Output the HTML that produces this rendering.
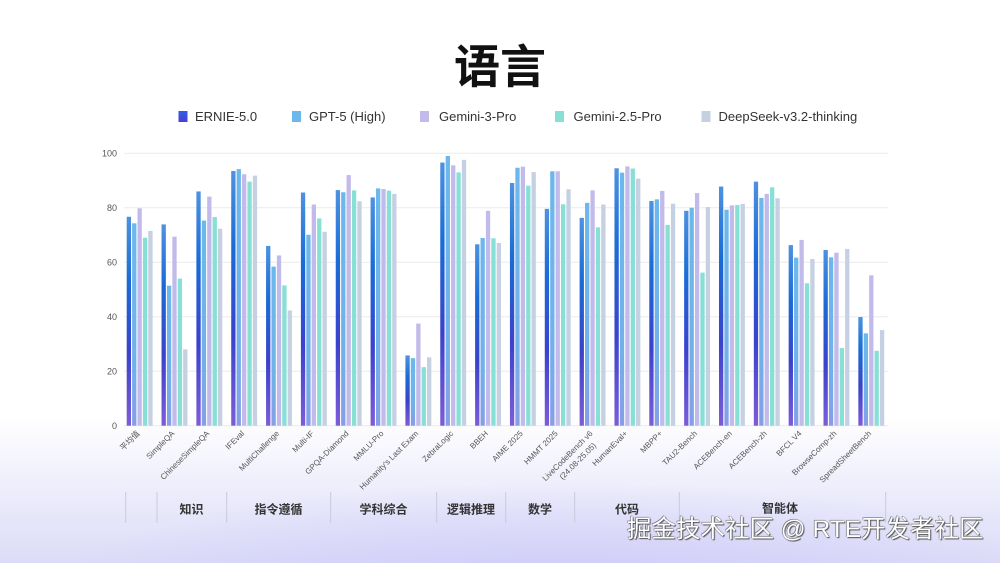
<!DOCTYPE html>
<html>
<head>
<meta charset="utf-8">
<style>
  html,body{margin:0;padding:0;}
  body{width:1000px;height:563px;overflow:hidden;position:relative;
    background:
      radial-gradient(ellipse 520px 120px at 560px 600px, rgba(200,196,248,0.75), rgba(200,196,248,0) 100%),
      linear-gradient(to bottom, #ffffff 0%, #ffffff 74%, #f4f4fd 82%, #e6e6fa 92%, #dcdcf8 100%);
    font-family:"Liberation Sans","Noto Sans CJK SC",sans-serif;}
  svg{position:absolute;left:0;top:0;}
  .wm{position:absolute;left:627px;top:515px;font-size:24.5px;line-height:30px;color:#fff;white-space:nowrap;
    font-family:"Liberation Sans","Noto Sans CJK SC",sans-serif;font-weight:400;
    text-shadow:0 0 1px #444,1px 1px 1px #555,-0.5px -0.5px 0.5px #666;}
</style>
</head>
<body>
<svg width="1000" height="563" viewBox="0 0 1000 563" xmlns="http://www.w3.org/2000/svg">
  <defs>
    <linearGradient id="gE" x1="0" y1="0" x2="0" y2="1">
      <stop offset="0" stop-color="#7c5cd8"/>
      <stop offset="0.35" stop-color="#3a42cc"/>
      <stop offset="0.7" stop-color="#1a6cd6"/>
      <stop offset="1" stop-color="#4e92e0"/>
    </linearGradient>
    <linearGradient id="gG" x1="0" y1="0" x2="0" y2="1">
      <stop offset="0" stop-color="#869ee6"/>
      <stop offset="0.3" stop-color="#72b0ea"/>
      <stop offset="1" stop-color="#6cb8ec"/>
    </linearGradient>
    <linearGradient id="lE" x1="0" y1="0" x2="0" y2="1">
      <stop offset="0" stop-color="#2f5ee6"/>
      <stop offset="1" stop-color="#4a3ed0"/>
    </linearGradient>
  </defs>

  <text x="500" y="83" text-anchor="middle" font-family="'Noto Sans CJK SC',sans-serif" font-weight="700" font-size="46" fill="#111">语言</text>

  <g font-family="'Liberation Sans',sans-serif" font-size="13" fill="#333">
    <rect x="178.5" y="111" width="9" height="11" fill="url(#lE)"/>
    <text x="195" y="121">ERNIE-5.0</text>
    <rect x="292" y="111" width="9" height="11" fill="#6cb8ec"/>
    <text x="309" y="121">GPT-5 (High)</text>
    <rect x="420" y="111" width="9" height="11" fill="#c2baea"/>
    <text x="439" y="121">Gemini-3-Pro</text>
    <rect x="555" y="111" width="9" height="11" fill="#87e0d6"/>
    <text x="573.5" y="121">Gemini-2.5-Pro</text>
    <rect x="701.5" y="111" width="9" height="11" fill="#c5d0e2"/>
    <text x="718.5" y="121">DeepSeek-v3.2-thinking</text>
  </g>

  <g stroke="#ececec" stroke-width="1">
    <line x1="124" y1="153.3" x2="888" y2="153.3"/>
    <line x1="124" y1="207.8" x2="888" y2="207.8"/>
    <line x1="124" y1="262.3" x2="888" y2="262.3"/>
    <line x1="124" y1="316.7" x2="888" y2="316.7"/>
    <line x1="124" y1="371.2" x2="888" y2="371.2"/>
    <line x1="124" y1="425.7" x2="888" y2="425.7"/>
  </g>
  <g font-family="'Liberation Sans',sans-serif" font-size="9" fill="#555" text-anchor="end">
    <text x="117" y="156.5">100</text>
    <text x="117" y="211">80</text>
    <text x="117" y="265.5">60</text>
    <text x="117" y="320">40</text>
    <text x="117" y="374.5">20</text>
    <text x="117" y="429">0</text>
  </g>

  <g transform="translate(126.7,425.7) scale(1,-2.724)"><rect x="0" width="4.3" height="76.7" fill="url(#gE)"/><rect x="5.4" width="4.3" height="74.3" fill="url(#gG)"/><rect x="10.8" width="4.3" height="79.8" fill="#c2baea"/><rect x="16.2" width="4.3" height="69.0" fill="#87e0d6"/><rect x="21.6" width="4.3" height="71.5" fill="#c5d0e2"/></g>
  <g transform="translate(161.54,425.7) scale(1,-2.724)"><rect x="0" width="4.3" height="73.9" fill="url(#gE)"/><rect x="5.4" width="4.3" height="51.4" fill="url(#gG)"/><rect x="10.8" width="4.3" height="69.4" fill="#c2baea"/><rect x="16.2" width="4.3" height="54.0" fill="#87e0d6"/><rect x="21.6" width="4.3" height="28.0" fill="#c5d0e2"/></g>
  <g transform="translate(196.38,425.7) scale(1,-2.724)"><rect x="0" width="4.3" height="86.0" fill="url(#gE)"/><rect x="5.4" width="4.3" height="75.3" fill="url(#gG)"/><rect x="10.8" width="4.3" height="84.1" fill="#c2baea"/><rect x="16.2" width="4.3" height="76.6" fill="#87e0d6"/><rect x="21.6" width="4.3" height="72.3" fill="#c5d0e2"/></g>
  <g transform="translate(231.22,425.7) scale(1,-2.724)"><rect x="0" width="4.3" height="93.5" fill="url(#gE)"/><rect x="5.4" width="4.3" height="94.2" fill="url(#gG)"/><rect x="10.8" width="4.3" height="92.3" fill="#c2baea"/><rect x="16.2" width="4.3" height="89.6" fill="#87e0d6"/><rect x="21.6" width="4.3" height="91.8" fill="#c5d0e2"/></g>
  <g transform="translate(266.06,425.7) scale(1,-2.724)"><rect x="0" width="4.3" height="66.0" fill="url(#gE)"/><rect x="5.4" width="4.3" height="58.4" fill="url(#gG)"/><rect x="10.8" width="4.3" height="62.5" fill="#c2baea"/><rect x="16.2" width="4.3" height="51.5" fill="#87e0d6"/><rect x="21.6" width="4.3" height="42.3" fill="#c5d0e2"/></g>
  <g transform="translate(300.9,425.7) scale(1,-2.724)"><rect x="0" width="4.3" height="85.6" fill="url(#gE)"/><rect x="5.4" width="4.3" height="70.1" fill="url(#gG)"/><rect x="10.8" width="4.3" height="81.2" fill="#c2baea"/><rect x="16.2" width="4.3" height="76.1" fill="#87e0d6"/><rect x="21.6" width="4.3" height="71.2" fill="#c5d0e2"/></g>
  <g transform="translate(335.74,425.7) scale(1,-2.724)"><rect x="0" width="4.3" height="86.5" fill="url(#gE)"/><rect x="5.4" width="4.3" height="85.7" fill="url(#gG)"/><rect x="10.8" width="4.3" height="92.0" fill="#c2baea"/><rect x="16.2" width="4.3" height="86.4" fill="#87e0d6"/><rect x="21.6" width="4.3" height="82.4" fill="#c5d0e2"/></g>
  <g transform="translate(370.58,425.7) scale(1,-2.724)"><rect x="0" width="4.3" height="83.8" fill="url(#gE)"/><rect x="5.4" width="4.3" height="87.1" fill="url(#gG)"/><rect x="10.8" width="4.3" height="86.9" fill="#c2baea"/><rect x="16.2" width="4.3" height="86.3" fill="#87e0d6"/><rect x="21.6" width="4.3" height="85.1" fill="#c5d0e2"/></g>
  <g transform="translate(405.42,425.7) scale(1,-2.724)"><rect x="0" width="4.3" height="25.8" fill="url(#gE)"/><rect x="5.4" width="4.3" height="24.8" fill="url(#gG)"/><rect x="10.8" width="4.3" height="37.5" fill="#c2baea"/><rect x="16.2" width="4.3" height="21.5" fill="#87e0d6"/><rect x="21.6" width="4.3" height="25.1" fill="#c5d0e2"/></g>
  <g transform="translate(440.26,425.7) scale(1,-2.724)"><rect x="0" width="4.3" height="96.6" fill="url(#gE)"/><rect x="5.4" width="4.3" height="99.0" fill="url(#gG)"/><rect x="10.8" width="4.3" height="95.6" fill="#c2baea"/><rect x="16.2" width="4.3" height="93.0" fill="#87e0d6"/><rect x="21.6" width="4.3" height="97.6" fill="#c5d0e2"/></g>
  <g transform="translate(475.1,425.7) scale(1,-2.724)"><rect x="0" width="4.3" height="66.6" fill="url(#gE)"/><rect x="5.4" width="4.3" height="68.9" fill="url(#gG)"/><rect x="10.8" width="4.3" height="78.9" fill="#c2baea"/><rect x="16.2" width="4.3" height="68.8" fill="#87e0d6"/><rect x="21.6" width="4.3" height="67.1" fill="#c5d0e2"/></g>
  <g transform="translate(509.94,425.7) scale(1,-2.724)"><rect x="0" width="4.3" height="89.1" fill="url(#gE)"/><rect x="5.4" width="4.3" height="94.7" fill="url(#gG)"/><rect x="10.8" width="4.3" height="95.1" fill="#c2baea"/><rect x="16.2" width="4.3" height="88.1" fill="#87e0d6"/><rect x="21.6" width="4.3" height="93.1" fill="#c5d0e2"/></g>
  <g transform="translate(544.78,425.7) scale(1,-2.724)"><rect x="0" width="4.3" height="79.6" fill="url(#gE)"/><rect x="5.4" width="4.3" height="93.4" fill="url(#gG)"/><rect x="10.8" width="4.3" height="93.4" fill="#c2baea"/><rect x="16.2" width="4.3" height="81.3" fill="#87e0d6"/><rect x="21.6" width="4.3" height="86.8" fill="#c5d0e2"/></g>
  <g transform="translate(579.62,425.7) scale(1,-2.724)"><rect x="0" width="4.3" height="76.3" fill="url(#gE)"/><rect x="5.4" width="4.3" height="81.8" fill="url(#gG)"/><rect x="10.8" width="4.3" height="86.4" fill="#c2baea"/><rect x="16.2" width="4.3" height="72.8" fill="#87e0d6"/><rect x="21.6" width="4.3" height="81.2" fill="#c5d0e2"/></g>
  <g transform="translate(614.46,425.7) scale(1,-2.724)"><rect x="0" width="4.3" height="94.5" fill="url(#gE)"/><rect x="5.4" width="4.3" height="92.9" fill="url(#gG)"/><rect x="10.8" width="4.3" height="95.2" fill="#c2baea"/><rect x="16.2" width="4.3" height="94.4" fill="#87e0d6"/><rect x="21.6" width="4.3" height="90.7" fill="#c5d0e2"/></g>
  <g transform="translate(649.3,425.7) scale(1,-2.724)"><rect x="0" width="4.3" height="82.5" fill="url(#gE)"/><rect x="5.4" width="4.3" height="83.1" fill="url(#gG)"/><rect x="10.8" width="4.3" height="86.2" fill="#c2baea"/><rect x="16.2" width="4.3" height="73.7" fill="#87e0d6"/><rect x="21.6" width="4.3" height="81.5" fill="#c5d0e2"/></g>
  <g transform="translate(684.14,425.7) scale(1,-2.724)"><rect x="0" width="4.3" height="78.9" fill="url(#gE)"/><rect x="5.4" width="4.3" height="80.0" fill="url(#gG)"/><rect x="10.8" width="4.3" height="85.4" fill="#c2baea"/><rect x="16.2" width="4.3" height="56.2" fill="#87e0d6"/><rect x="21.6" width="4.3" height="80.3" fill="#c5d0e2"/></g>
  <g transform="translate(718.98,425.7) scale(1,-2.724)"><rect x="0" width="4.3" height="87.8" fill="url(#gE)"/><rect x="5.4" width="4.3" height="79.3" fill="url(#gG)"/><rect x="10.8" width="4.3" height="80.9" fill="#c2baea"/><rect x="16.2" width="4.3" height="81.0" fill="#87e0d6"/><rect x="21.6" width="4.3" height="81.4" fill="#c5d0e2"/></g>
  <g transform="translate(753.82,425.7) scale(1,-2.724)"><rect x="0" width="4.3" height="89.6" fill="url(#gE)"/><rect x="5.4" width="4.3" height="83.6" fill="url(#gG)"/><rect x="10.8" width="4.3" height="85.1" fill="#c2baea"/><rect x="16.2" width="4.3" height="87.5" fill="#87e0d6"/><rect x="21.6" width="4.3" height="83.5" fill="#c5d0e2"/></g>
  <g transform="translate(788.66,425.7) scale(1,-2.724)"><rect x="0" width="4.3" height="66.3" fill="url(#gE)"/><rect x="5.4" width="4.3" height="61.7" fill="url(#gG)"/><rect x="10.8" width="4.3" height="68.2" fill="#c2baea"/><rect x="16.2" width="4.3" height="52.3" fill="#87e0d6"/><rect x="21.6" width="4.3" height="61.2" fill="#c5d0e2"/></g>
  <g transform="translate(823.5,425.7) scale(1,-2.724)"><rect x="0" width="4.3" height="64.5" fill="url(#gE)"/><rect x="5.4" width="4.3" height="61.8" fill="url(#gG)"/><rect x="10.8" width="4.3" height="63.5" fill="#c2baea"/><rect x="16.2" width="4.3" height="28.5" fill="#87e0d6"/><rect x="21.6" width="4.3" height="64.9" fill="#c5d0e2"/></g>
  <g transform="translate(858.34,425.7) scale(1,-2.724)"><rect x="0" width="4.3" height="39.9" fill="url(#gE)"/><rect x="5.4" width="4.3" height="33.9" fill="url(#gG)"/><rect x="10.8" width="4.3" height="55.2" fill="#c2baea"/><rect x="16.2" width="4.3" height="27.5" fill="#87e0d6"/><rect x="21.6" width="4.3" height="35.1" fill="#c5d0e2"/></g>

  <g font-family="'Liberation Sans','Noto Sans CJK SC',sans-serif" font-size="8" fill="#555" text-anchor="end">
    <text transform="translate(140.2,434) rotate(-45)">平均值</text>
    <text transform="translate(175.0,434) rotate(-45)">SimpleQA</text>
    <text transform="translate(209.9,434) rotate(-45)">ChineseSimpleQA</text>
    <text transform="translate(244.7,434) rotate(-45)">IFEval</text>
    <text transform="translate(279.6,434) rotate(-45)">MultiChallenge</text>
    <text transform="translate(314.4,434) rotate(-45)">Multi-IF</text>
    <text transform="translate(349.2,434) rotate(-45)">GPQA-Diamond</text>
    <text transform="translate(384.1,434) rotate(-45)">MMLU-Pro</text>
    <text transform="translate(418.9,434) rotate(-45)">Humanity's Last Exam</text>
    <text transform="translate(453.8,434) rotate(-45)">ZebraLogic</text>
    <text transform="translate(488.6,434) rotate(-45)">BBEH</text>
    <text transform="translate(523.4,434) rotate(-45)">AIME 2025</text>
    <text transform="translate(558.3,434) rotate(-45)">HMMT 2025</text>
    <text transform="translate(593.1,434) rotate(-45)"><tspan x="0" y="0">LiveCodeBench v6</tspan><tspan x="-6" y="11">(24.08-25.05)</tspan></text>
    <text transform="translate(628.0,434) rotate(-45)">HumanEval+</text>
    <text transform="translate(662.8,434) rotate(-45)">MBPP+</text>
    <text transform="translate(697.6,434) rotate(-45)">TAU2-Bench</text>
    <text transform="translate(732.5,434) rotate(-45)">ACEBench-en</text>
    <text transform="translate(767.3,434) rotate(-45)">ACEBench-zh</text>
    <text transform="translate(802.2,434) rotate(-45)">BFCL V4</text>
    <text transform="translate(837.0,434) rotate(-45)">BrowseComp-zh</text>
    <text transform="translate(871.8,434) rotate(-45)">SpreadSheetBench</text>
  </g>

  <g stroke="#cacadc" stroke-width="1">
    <line x1="125.7" y1="492" x2="125.7" y2="523"/>
    <line x1="157" y1="492" x2="157" y2="523"/>
    <line x1="226.7" y1="492" x2="226.7" y2="523"/>
    <line x1="330.7" y1="492" x2="330.7" y2="523"/>
    <line x1="436.7" y1="492" x2="436.7" y2="523"/>
    <line x1="505.7" y1="492" x2="505.7" y2="523"/>
    <line x1="574.7" y1="492" x2="574.7" y2="523"/>
    <line x1="679.3" y1="492" x2="679.3" y2="523"/>
    <line x1="885.7" y1="492" x2="885.7" y2="523"/>
  </g>
  <g font-family="'Noto Sans CJK SC',sans-serif" font-size="12" font-weight="700" fill="#333" text-anchor="middle">
    <text x="191.5" y="513.5">知识</text>
    <text x="278.5" y="513.5">指令遵循</text>
    <text x="383.5" y="513.5">学科综合</text>
    <text x="471" y="513.5">逻辑推理</text>
    <text x="540" y="513.5">数学</text>
    <text x="627" y="513.5">代码</text>
    <text x="780" y="512.5">智能体</text>
  </g>
</svg>
<div class="wm">掘金技术社区 @ RTE开发者社区</div>
</body>
</html>
